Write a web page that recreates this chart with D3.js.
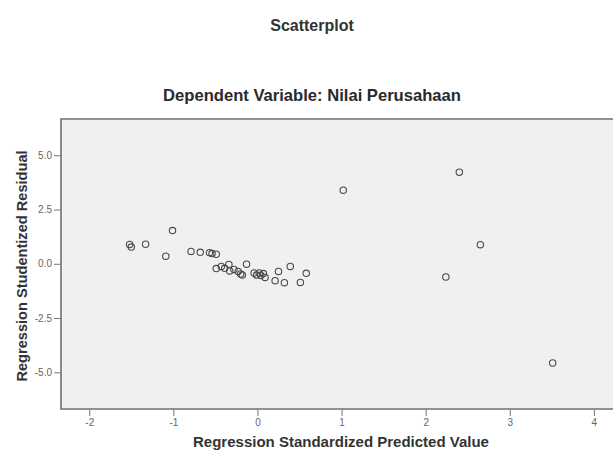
<!DOCTYPE html>
<html>
<head>
<meta charset="utf-8">
<script src="https://cdn.jsdelivr.net/npm/d3@7"></script>
<style>
  body { margin: 0; background: #fff; }
  svg { display: block; font-family: "Liberation Sans", Arial, sans-serif; }
</style>
</head>
<body>
<div id="chart"></div>
<script>
// predicted value (standardized) vs studentized residual
var predicted = [-1.52, -1.50, -1.33, -1.01, -1.09, -0.79, -0.68, -0.57, -0.54, -0.49,
                 -0.49, -0.43, -0.39, -0.34, -0.33, -0.28, -0.23, -0.20, -0.18, -0.13,
                 -0.04, -0.01, 0.02, 0.04, 0.07, 0.09, 0.21, 0.25, 0.32, 0.39,
                 0.51, 0.58, 1.02, 2.40, 2.65, 2.24, 3.51];
var residual  = [0.89, 0.77, 0.90, 1.53, 0.35, 0.57, 0.53, 0.51, 0.47, 0.44,
                 -0.22, -0.12, -0.21, -0.03, -0.33, -0.26, -0.35, -0.47, -0.52, -0.02,
                 -0.42, -0.52, -0.42, -0.54, -0.45, -0.63, -0.78, -0.35, -0.87, -0.12,
                 -0.86, -0.44, 3.39, 4.22, 0.88, -0.61, -4.57];
var xTicks = [-2, -1, 0, 1, 2, 3, 4];
var yTicks = [-5, -2.5, 0, 2.5, 5];

var width = 613, height = 452;
var plotL = 61, plotT = 119, plotB = 409, plotR = 625;

var svg = d3.select("#chart").append("svg")
  .attr("width", width)
  .attr("height", height);

var x = d3.scaleLinear().domain([-2.336, 4.37]).range([plotL, plotR]);
var y = d3.scaleLinear().domain([-6.69, 6.67]).range([plotB, plotT]);

// plot area
svg.append("rect")
  .attr("x", plotL).attr("y", plotT)
  .attr("width", plotR - plotL).attr("height", plotB - plotT)
  .attr("fill", "#f0f0f0");

svg.append("path")
  .attr("d", "M" + plotR + "," + plotT + "H" + plotL + "V" + plotB + "H" + plotR)
  .attr("fill", "none")
  .attr("stroke", "#707070")
  .attr("stroke-width", 1.6);

var yAxis = svg.append("g")
  .attr("transform", "translate(" + plotL + ",0)")
  .call(d3.axisLeft(y).tickValues(yTicks).tickSize(7).tickPadding(2)
    .tickFormat(function(d) { return d.toFixed(1); }));
yAxis.select(".domain").remove();

var xAxis = svg.append("g")
  .attr("transform", "translate(0," + plotB + ")")
  .call(d3.axisBottom(x).tickValues(xTicks).tickSize(7).tickPadding(3)
    .tickFormat(function(d) { return d.toFixed(0); }));
xAxis.select(".domain").remove();

svg.selectAll(".tick line").attr("stroke", "#777");
svg.selectAll(".tick text")
  .attr("fill", "#666")
  .style("font-size", "10px")
  .style("font-family", "Liberation Sans, Arial, sans-serif");

// points
svg.append("g").selectAll("circle")
  .data(predicted)
  .enter().append("circle")
  .attr("cx", function(d) { return x(d); })
  .attr("cy", function(d, i) { return y(residual[i]); })
  .attr("r", 3.2)
  .attr("fill", "none")
  .attr("stroke", "#4a4a4a")
  .attr("stroke-width", 1.1);

// titles
svg.append("text")
  .attr("x", 312).attr("y", 31)
  .attr("text-anchor", "middle")
  .style("font-size", "16px").style("font-weight", "bold")
  .attr("fill", "#333")
  .text("Scatterplot");

svg.append("text")
  .attr("x", 312).attr("y", 101)
  .attr("text-anchor", "middle")
  .style("font-size", "16.6px").style("font-weight", "bold")
  .attr("fill", "#2a2a2a")
  .text("Dependent Variable: Nilai Perusahaan");

svg.append("text")
  .attr("x", 341).attr("y", 447)
  .attr("text-anchor", "middle")
  .style("font-size", "15px").style("font-weight", "bold")
  .attr("fill", "#333")
  .text("Regression Standardized Predicted Value");

svg.append("text")
  .attr("transform", "translate(27,266) rotate(-90)")
  .attr("text-anchor", "middle")
  .style("font-size", "14.6px").style("font-weight", "bold")
  .attr("fill", "#333")
  .text("Regression Studentized Residual");
</script>
</body>
</html>
